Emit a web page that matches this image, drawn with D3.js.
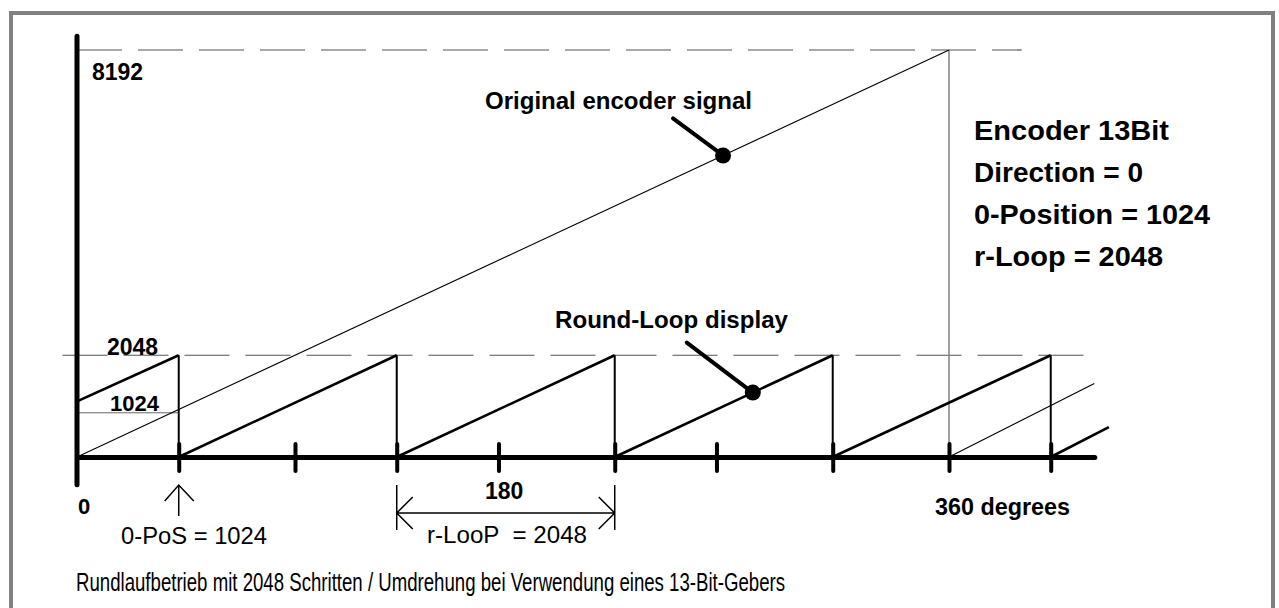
<!DOCTYPE html>
<html>
<head>
<meta charset="utf-8">
<script src="https://cdn.jsdelivr.net/npm/d3@7"></script>
<style>
  body { margin: 0; background: #fff; }
  svg text { font-family: "Liberation Sans", Arial, Helvetica, sans-serif; fill: #000; }
  .bold { font-weight: bold; }
</style>
</head>
<body>
<div id="chart"></div>
<script>

// data (x in degrees, y in encoder counts)
var fullScale = 8192;          // 13 bit
var loopRange = 2048;          // r-Loop
var tickDegrees = [42, 90, 132, 174, 222, 264, 312, 360, 402];
var loopResets = [42, 132, 222, 312, 402];
var loopStart = [0, 1120];     // first partial ramp starts here
var loopEnd = [426, 600];      // last ramp runs out of the picture
var encoderLine = [[0, 0], [360, 8192]];
var encoderWrap = [[360, 0], [420, 1480]];
var zeroPosGuide = [[0, 890], [42, 890]];
var dashTop = [[0, 8192], [390, 8192]];
var dashLoop = [[-6, 2048], [419, 2048]];
var xAxisEnd = 420;
var yAxisExtent = [-560, 8470];

var width = 1279, height = 608;

var svg = d3.select("#chart").append("svg")
	.attr("width", width)
	.attr("height", height);

// grey frame round the whole drawing
svg.append("rect")
	.attr("x", 11).attr("y", 13)
	.attr("width", 1262).attr("height", 640)
	.attr("fill", "none")
	.attr("stroke", "#808080")
	.attr("stroke-width", 4);

var x = d3.scaleLinear().domain([0, 360]).range([77, 949]);
var y = d3.scaleLinear().domain([0, fullScale]).range([457, 50]);

var line = d3.line()
	.x(function(d){ return x(d[0]); })
	.y(function(d){ return y(d[1]); });

var g = svg.append("g");

// dashed guide lines at 8192 and 2048
[dashTop, dashLoop].forEach(function(pts){
	g.append("path")
		.attr("d", line(pts))
		.attr("fill", "none")
		.attr("stroke", "#555")
		.attr("stroke-width", 1.2)
		.attr("stroke-dasharray", "45,16");
});

// thin guide at 0-position
g.append("path")
	.attr("d", line(zeroPosGuide))
	.attr("stroke", "#666")
	.attr("stroke-width", 1);

// grey drop line at 360 degrees
g.append("path")
	.attr("d", line([[360, fullScale], [360, 0]]))
	.attr("stroke", "#808080")
	.attr("stroke-width", 1.5);

// original encoder signal (thin)
[encoderLine, encoderWrap].forEach(function(pts){
	g.append("path")
		.attr("d", line(pts))
		.attr("fill", "none")
		.attr("stroke", "#000")
		.attr("stroke-width", 1.1);
});

// round-loop sawtooth: ramps + reset verticals
var ramps = [[loopStart, [loopResets[0], loopRange]]];
for (var i = 0; i < loopResets.length - 1; i++){
	ramps.push([[loopResets[i], 0], [loopResets[i+1], loopRange]]);
}
ramps.push([[loopResets[loopResets.length-1], 0], loopEnd]);

g.selectAll("path.ramp")
	.data(ramps).enter()
	.append("path")
		.attr("class", "ramp")
		.attr("d", line)
		.attr("stroke", "#000")
		.attr("stroke-width", 2.6);

g.selectAll("path.reset")
	.data(loopResets).enter()
	.append("path")
		.attr("class", "reset")
		.attr("d", function(d){ return line([[d, loopRange], [d, 0]]); })
		.attr("stroke", "#000")
		.attr("stroke-width", 2);

// x axis with ticks
var xAxisScale = x.copy().domain([0, xAxisEnd]).range([x(0), x(xAxisEnd)]);
var xAxis = d3.axisBottom(xAxisScale)
	.tickValues(tickDegrees)
	.tickSize(0)
	.tickFormat("");

var ax = svg.append("g")
	.attr("class", "x axis")
	.attr("transform", "translate(0," + y(0) + ")")
	.call(xAxis);
ax.select(".domain")
	.attr("stroke", "#000")
	.attr("stroke-width", 5)
	.attr("stroke-linecap", "round");
ax.selectAll(".tick line")
	.attr("y1", -13).attr("y2", 14)
	.attr("stroke", "#000")
	.attr("stroke-width", 4)
	.attr("stroke-linecap", "round");

// y axis (plain thick line)
svg.append("path")
	.attr("d", line([[0, yAxisExtent[0]], [0, yAxisExtent[1]]]))
	.attr("stroke", "#000")
	.attr("stroke-width", 5)
	.attr("stroke-linecap", "round");

// callouts
var callouts = [
	{ text: "Original encoder signal", deg: 266.7, val: 6069, dx: -50, dy: -37, tx: 485, ty: 109, len: 267 },
	{ text: "Round-Loop display", deg: 279, val: 1297, dx: -66, dy: -50, tx: 555, ty: 328, len: 233 }
];
callouts.forEach(function(c){
	svg.append("line")
		.attr("x1", x(c.deg) + c.dx).attr("y1", y(c.val) + c.dy)
		.attr("x2", x(c.deg)).attr("y2", y(c.val))
		.attr("stroke", "#000")
		.attr("stroke-width", 4)
		.attr("stroke-linecap", "round");
	svg.append("circle")
		.attr("cx", x(c.deg)).attr("cy", y(c.val))
		.attr("r", 8);
	svg.append("text")
		.attr("class", "bold")
		.attr("x", c.tx).attr("y", c.ty)
		.attr("textLength", c.len)
		.attr("lengthAdjust", "spacingAndGlyphs")
		.style("font-size", "24px")
		.text(c.text);
});

// value labels
var labels = [
	{ t: "8192", x: 92, y: 80, s: 23 },
	{ t: "2048", x: 107, y: 355, s: 23 },
	{ t: "1024", x: 110, y: 411, s: 22 },
	{ t: "0", x: 78, y: 514, s: 22 },
	{ t: "180", x: 485, y: 499, s: 23 },
	{ t: "360 degrees", x: 935, y: 515, s: 23, len: 135 }
];
labels.forEach(function(l){
	var t = svg.append("text")
		.attr("class", "bold")
		.attr("x", l.x).attr("y", l.y)
		.style("font-size", l.s + "px")
		.text(l.t);
	if (l.len) t.attr("textLength", l.len).attr("lengthAdjust", "spacingAndGlyphs");
});

// settings block on the right
var settings = ["Encoder 13Bit", "Direction = 0", "0-Position = 1024", "r-Loop = 2048"];
var settingsLen = [195, 169, 236, 189];
svg.selectAll("text.setting")
	.data(settings).enter()
	.append("text")
		.attr("class", "setting bold")
		.attr("x", 974)
		.attr("y", function(d, i){ return 140 + i * 42; })
		.attr("textLength", function(d, i){ return settingsLen[i]; })
		.attr("lengthAdjust", "spacingAndGlyphs")
		.style("font-size", "28px")
		.text(function(d){ return d; });

// 0-PoS arrow
var ax0 = x(loopResets[0]);
svg.append("path")
	.attr("d", "M" + ax0 + ",485V516M" + (ax0 - 14) + ",501L" + ax0 + ",485L" + (ax0 + 15) + ",501")
	.attr("fill", "none")
	.attr("stroke", "#000")
	.attr("stroke-width", 1.5);
svg.append("text")
	.attr("x", 121).attr("y", 544)
	.attr("textLength", 146)
	.attr("lengthAdjust", "spacingAndGlyphs")
	.style("font-size", "23px")
	.text("0-PoS = 1024");

// r-LooP dimension
var d1 = x(loopResets[1]), d2 = x(loopResets[2]);
svg.append("path")
	.attr("d", "M" + d1 + ",485V530M" + d2 + ",485V530M" + d1 + ",513H" + d2 +
		"M" + (d1 + 16) + ",497L" + d1 + ",513L" + (d1 + 16) + ",529" +
		"M" + (d2 - 16) + ",497L" + d2 + ",513L" + (d2 - 16) + ",529")
	.attr("fill", "none")
	.attr("stroke", "#000")
	.attr("stroke-width", 1.5);
svg.append("text")
	.attr("x", 427).attr("y", 543)
	.attr("textLength", 160)
	.attr("lengthAdjust", "spacingAndGlyphs")
	.style("font-size", "23px")
	.style("white-space", "pre")
	.text("r-LooP  = 2048");

// caption
svg.append("text")
	.attr("x", 76).attr("y", 591)
	.attr("textLength", 709)
	.attr("lengthAdjust", "spacingAndGlyphs")
	.style("font-family", "'Liberation Sans Narrow', 'Liberation Sans', Arial, sans-serif")
	.style("font-size", "25px")
	.text("Rundlaufbetrieb mit 2048 Schritten / Umdrehung bei Verwendung eines 13-Bit-Gebers");

</script>
</body>
</html>
